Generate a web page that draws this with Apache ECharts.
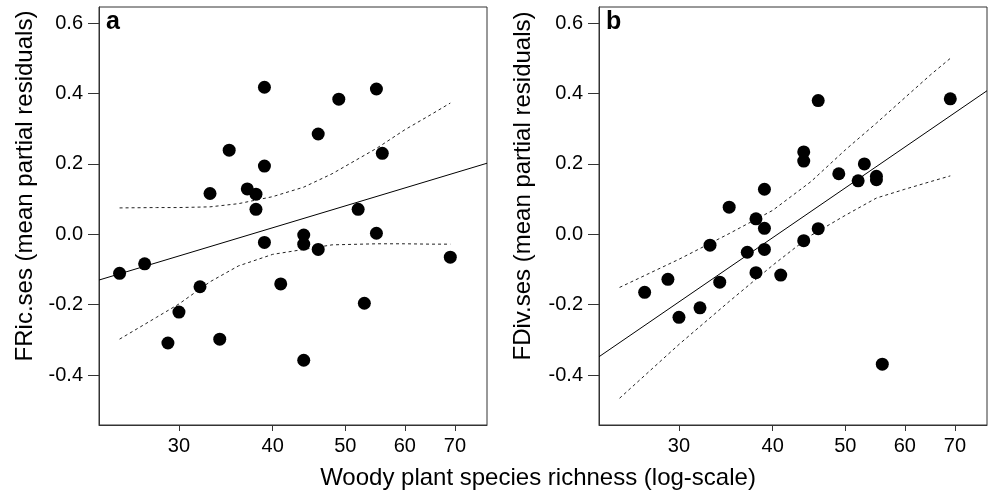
<!DOCTYPE html>
<html>
<head>
<meta charset="utf-8">
<script src="https://cdn.jsdelivr.net/npm/echarts@6/dist/echarts.min.js"></script>
<style>
html,body{margin:0;padding:0;background:#fff;}
#chart{width:990px;height:492px;}
</style>
</head>
<body>
<div id="chart"></div>
<script>
// ---- data ----
const xTicks = [30, 40, 50, 60, 70];
const yTicks = [-0.4, -0.2, 0.0, 0.2, 0.4, 0.6];
const xRange = [23.47, 77.23];   // richness at plot edges
const yRange = [-0.542, 0.646];

// Panel a: FRic.ses
const richnessA = [39,55,49,46,35,56,39,33,37,38,38,52,55,39,44,44,46,25,27,32,30,29,34,41,53,44,69];
const fricA = [0.418,0.413,0.384,0.285,0.239,0.230,0.194,0.116,0.129,0.114,0.071,0.071,0.003,-0.023,-0.002,-0.028,-0.043,-0.111,-0.084,-0.149,-0.221,-0.309,-0.298,-0.141,-0.196,-0.358,-0.065];
const fitA = [-0.130, 0.202];          // fitted line at xRange ends
const ciXA = [25,28,30,33,36,40,44,48,55,60,65,69];
const ciUpA = [0.075,0.076,0.076,0.078,0.087,0.107,0.134,0.172,0.244,0.297,0.340,0.373];
const ciLoA = [-0.298,-0.236,-0.198,-0.135,-0.090,-0.057,-0.043,-0.030,-0.027,-0.027,-0.028,-0.028];

// Panel b: FDiv.ses
const richnessB = [46,69,44,44,53,49,52,55,55,39,35,38,39,46,44,33,39,37,38,41,29,34,27,32,30,56];
const fdivB = [0.380,0.385,0.234,0.208,0.200,0.172,0.152,0.165,0.155,0.128,0.077,0.044,0.017,0.016,-0.018,-0.031,-0.043,-0.051,-0.109,-0.116,-0.128,-0.136,-0.165,-0.209,-0.236,-0.369];
const fitB = [-0.348, 0.408];
const ciXB = [25,30,35,40,45,50,55,60,65,69];
const ciUpB = [-0.151,-0.071,0.002,0.068,0.150,0.240,0.316,0.388,0.454,0.500];
const ciLoB = [-0.466,-0.313,-0.191,-0.088,-0.003,0.054,0.103,0.128,0.150,0.166];

// ---- chart ----
const FONT = '"Liberation Sans", Arial, Helvetica, sans-serif';
const ln = Math.log;
const pairs = (xs, ys) => xs.map((x, i) => [ln(x), ys[i]]);

function xAxisDef(gi) {
  return {
    type: 'value', gridIndex: gi,
    min: ln(xRange[0]), max: ln(xRange[1]),
    axisLine: {show: true, onZero: false, lineStyle: {color: '#333', width: 1}},
    axisTick: {show: true, customValues: xTicks.map(ln), length: 6, lineStyle: {color: '#333'}},
    axisLabel: {customValues: xTicks.map(ln), formatter: v => String(Math.round(Math.exp(v))),
      fontSize: 20, fontFamily: FONT, color: '#000', margin: 11},
    splitLine: {show: false}
  };
}
function yAxisDef(gi) {
  return {
    type: 'value', gridIndex: gi,
    min: yRange[0], max: yRange[1],
    axisLine: {show: true, onZero: false, lineStyle: {color: '#333', width: 1}},
    axisTick: {show: true, customValues: yTicks, length: 11, lineStyle: {color: '#333'}},
    axisLabel: {customValues: yTicks, formatter: v => (Math.abs(v) < 1e-9 ? '0.0' : v.toFixed(1)),
      fontSize: 20, fontFamily: FONT, color: '#000', margin: 16},
    splitLine: {show: false}
  };
}
function panelSeries(gi, xs, ys, fit, ciX, up, lo) {
  const dash = {color: '#222', width: 1, type: [3, 3]};
  return [
    {type: 'line', xAxisIndex: gi, yAxisIndex: gi, data: pairs(xRange, fit), showSymbol: false,
      lineStyle: {color: '#000', width: 1}, silent: true, z: 2},
    {type: 'line', xAxisIndex: gi, yAxisIndex: gi, data: pairs(ciX, up), showSymbol: false,
      lineStyle: dash, silent: true, z: 2},
    {type: 'line', xAxisIndex: gi, yAxisIndex: gi, data: pairs(ciX, lo), showSymbol: false,
      lineStyle: dash, silent: true, z: 2},
    {type: 'scatter', xAxisIndex: gi, yAxisIndex: gi, data: pairs(xs, ys), symbol: 'circle',
      symbolSize: 13, itemStyle: {color: '#000', opacity: 1}, z: 3}
  ];
}

const chart = echarts.init(document.getElementById('chart'), null, {renderer: 'canvas'});
chart.setOption({
  animation: false,
  backgroundColor: '#fff',
  grid: [
    {left: 99, top: 7, width: 388, height: 418, show: true, borderColor: '#333', borderWidth: 1, containLabel: false},
    {left: 599, top: 7, width: 388, height: 418, show: true, borderColor: '#333', borderWidth: 1, containLabel: false}
  ],
  xAxis: [xAxisDef(0), xAxisDef(1)],
  yAxis: [yAxisDef(0), yAxisDef(1)],
  series: [
    ...panelSeries(0, richnessA, fricA, fitA, ciXA, ciUpA, ciLoA),
    ...panelSeries(1, richnessB, fdivB, fitB, ciXB, ciUpB, ciLoB)
  ],
  graphic: [
    {type: 'text', x: 25, y: 186, rotation: Math.PI / 2,
      style: {text: 'FRic.ses (mean partial residuals)', font: '24px ' + FONT, fill: '#000', textAlign: 'center', textVerticalAlign: 'middle'}},
    {type: 'text', x: 523, y: 186, rotation: Math.PI / 2,
      style: {text: 'FDiv.ses (mean partial residuals)', font: '24px ' + FONT, fill: '#000', textAlign: 'center', textVerticalAlign: 'middle'}},
    {type: 'text', x: 538, y: 478,
      style: {text: 'Woody plant species richness (log-scale)', font: '24px ' + FONT, fill: '#000', textAlign: 'center', textVerticalAlign: 'middle'}},
    {type: 'text', x: 106, y: 22,
      style: {text: 'a', font: 'bold 25px ' + FONT, fill: '#000', textAlign: 'left', textVerticalAlign: 'middle'}},
    {type: 'text', x: 606, y: 22,
      style: {text: 'b', font: 'bold 25px ' + FONT, fill: '#000', textAlign: 'left', textVerticalAlign: 'middle'}}
  ]
});
</script>
</body>
</html>
